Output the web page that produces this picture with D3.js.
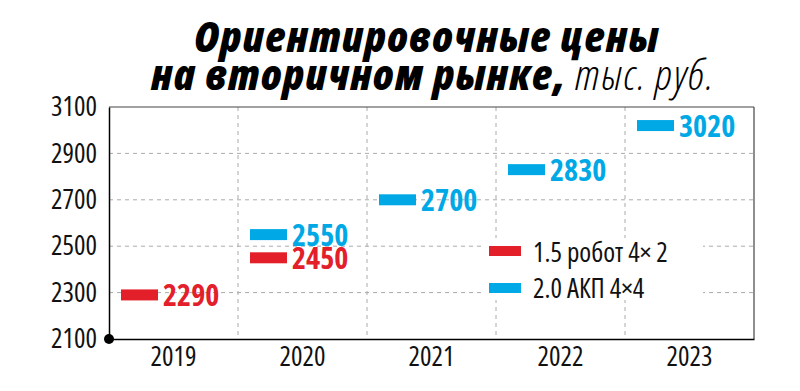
<!DOCTYPE html>
<html>
<head>
<meta charset="utf-8">
<script src="https://cdn.jsdelivr.net/npm/d3@7"></script>
<style>
  body { margin: 0; background: #fff; }
  svg { display: block; }
  .narrow { font-family: "Open Sans", sans-serif; font-stretch: 75%; }
  .title { font-family: "Open Sans", sans-serif; font-style: italic; font-stretch: 75%; letter-spacing: 1.5px; }
</style>
</head>
<body>
<svg width="800" height="391"></svg>
<script>
const years = ['2019', '2020', '2021', '2022', '2023'];
const robotYears = ['2019', '2020'];
const robotValues = [2290, 2450];
const akpYears = ['2020', '2021', '2022', '2023'];
const akpValues = [2550, 2700, 2830, 3020];
const yTicks = [2100, 2300, 2500, 2700, 2900, 3100];
const legendLabels = ['1.5 робот 4× 2', '2.0 АКП 4×4'];

const red = '#e3202a';
const blue = '#00a9e6';

const svg = d3.select('svg');
const margin = {top: 107, right: 46, bottom: 52, left: 109};
const width = +svg.attr('width');
const height = +svg.attr('height');
const chartWidth = width - margin.left - margin.right;
const chartHeight = height - margin.top - margin.bottom;

// title
svg.append('text')
    .attr('class', 'title')
    .attr('x', 427).attr('y', 52)
    .attr('text-anchor', 'middle')
    .style('font-size', '43px').style('font-weight', 800)
    .text('Ориентировочные цены');
const line2 = svg.append('text')
    .attr('class', 'title')
    .attr('x', 433).attr('y', 90)
    .attr('text-anchor', 'middle')
    .style('font-size', '43px');
line2.append('tspan').style('font-weight', 800).text('на вторичном рынке,');
line2.append('tspan').style('font-weight', 300).text(' тыс. руб.');

const chart = svg.append('g')
    .attr('transform', `translate(${margin.left},${margin.top})`);

const x = d3.scaleBand().domain(years).range([0, chartWidth]);
const y = d3.scaleLinear().domain([2100, 3100]).range([chartHeight, 0]);

// grid
chart.selectAll('.hgrid')
    .data(yTicks.slice(1, -1))
    .join('line')
    .attr('x1', 0).attr('x2', chartWidth)
    .attr('y1', d => y(d)).attr('y2', d => y(d))
    .attr('stroke', '#aaa').attr('stroke-width', 1)
    .attr('stroke-dasharray', '4,4');
chart.selectAll('.vgrid')
    .data(years.slice(1))
    .join('line')
    .attr('x1', d => x(d)).attr('x2', d => x(d))
    .attr('y1', 0).attr('y2', chartHeight)
    .attr('stroke', '#aaa').attr('stroke-width', 1)
    .attr('stroke-dasharray', '4,4');

// frame
chart.append('line').attr('x1', 0).attr('x2', chartWidth).attr('y1', 0).attr('y2', 0)
    .attr('stroke', '#444').attr('stroke-width', 1.2);
chart.append('line').attr('x1', chartWidth).attr('x2', chartWidth).attr('y1', 0).attr('y2', chartHeight)
    .attr('stroke', '#444').attr('stroke-width', 1.2);

// axes
const yAxis = chart.append('g')
    .call(d3.axisLeft(y).tickValues(yTicks).tickSize(0).tickPadding(12).tickFormat(d3.format('d')));
yAxis.select('.domain').attr('stroke', '#000').attr('stroke-width', 1.5);
yAxis.selectAll('text').attr('class', 'narrow')
    .style('font-size', '27px').attr('fill', '#111');

const xAxis = chart.append('g')
    .attr('transform', `translate(0,${chartHeight})`)
    .call(d3.axisBottom(x).tickSize(0).tickPadding(8));
xAxis.select('.domain').attr('stroke', '#000').attr('stroke-width', 1.5);
xAxis.selectAll('text').attr('class', 'narrow')
    .style('font-size', '27px').attr('fill', '#111');

chart.append('circle').attr('cx', 0).attr('cy', chartHeight).attr('r', 5).attr('fill', '#000');

// bars
const barOffset = 12, barW = 37, barH = 11;
function drawSeries(cats, vals, color) {
  const g = chart.append('g');
  g.selectAll('rect')
      .data(vals)
      .join('rect')
      .attr('x', (d, i) => x(cats[i]) + barOffset)
      .attr('y', d => y(d) - barH / 2)
      .attr('width', barW)
      .attr('height', barH)
      .attr('fill', color);
  g.selectAll('text')
      .data(vals)
      .join('text')
      .attr('class', 'narrow')
      .attr('x', (d, i) => x(cats[i]) + barOffset + barW + 5)
      .attr('y', d => y(d) + 11)
      .style('font-size', '30px').style('font-weight', 700)
      .attr('fill', color)
      .text(d => d);
}
drawSeries(robotYears, robotValues, red);
drawSeries(akpYears, akpValues, blue);

// legend
const legend = svg.append('g').attr('transform', 'translate(485,238)');
legend.append('rect').attr('x', 0).attr('y', 0).attr('width', 218).attr('height', 62).attr('fill', '#fff');
const legendColors = [red, blue];
legendLabels.forEach((label, i) => {
  legend.append('rect')
      .attr('x', 4).attr('y', 8 + i * 37).attr('width', 32).attr('height', 10)
      .attr('fill', legendColors[i]);
  legend.append('text')
      .attr('class', 'narrow')
      .attr('x', 48).attr('y', 24 + i * 36)
      .style('font-size', '27px')
      .attr('fill', '#111')
      .text(label);
});
</script>
</body>
</html>
